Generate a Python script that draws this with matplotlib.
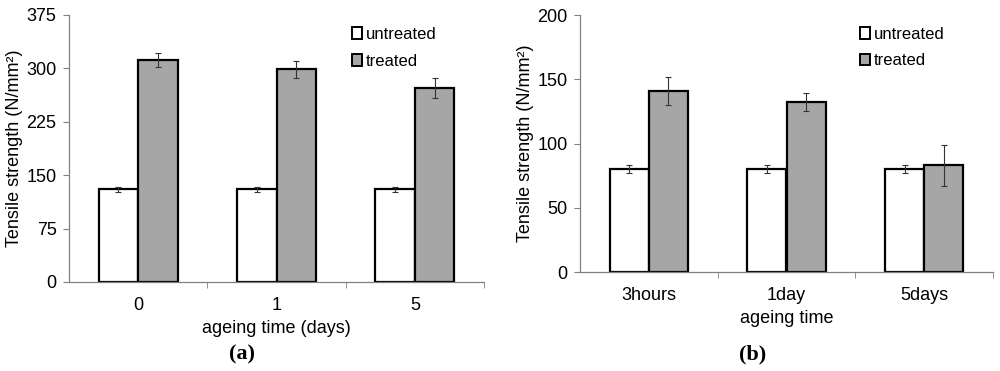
import numpy as np
import matplotlib.pyplot as plt
from matplotlib.patches import Patch

plt.rcParams['font.family'] = ['Liberation Sans', 'DejaVu Sans']

# panel (a)
cats_a = ['0', '1', '5']
untreated_a = [130, 130, 130]
untreated_a_err = [4, 4, 4]
treated_a = [312, 299, 273]
treated_a_err = [10, 12, 14]

# panel (b)
cats_b = ['3hours', '1day', '5days']
untreated_b = [80, 80, 80]
untreated_b_err = [3, 3, 3]
treated_b = [141, 132, 83]
treated_b_err = [11, 7, 16]

gray = '#a6a6a6'
spine_c = '#808080'


def draw(ax, cats, unt, unt_err, trt, trt_err, ymax, step, xlabel, bbox):
    x = np.arange(len(cats)) + 0.5
    w = 0.285
    ax.bar(x - w / 2, unt, w, color='white', edgecolor='black', linewidth=1.6, zorder=2)
    ax.bar(x + w / 2, trt, w, color=gray, edgecolor='black', linewidth=1.6, zorder=2)
    ax.errorbar(x - w / 2, unt, yerr=unt_err, fmt='none', ecolor='#333333',
                elinewidth=0.8, capsize=2.5, capthick=0.8, zorder=3)
    ax.errorbar(x + w / 2, trt, yerr=trt_err, fmt='none', ecolor='#333333',
                elinewidth=0.8, capsize=2.5, capthick=0.8, zorder=3)
    ax.set_xlim(0, len(cats))
    ax.set_ylim(0, ymax)
    ax.set_yticks(np.arange(0, ymax + 1, step))
    ax.set_xticks(x)
    ax.set_xticklabels(cats)
    ax.set_xticks(np.arange(1, len(cats) + 1), minor=True)
    ax.tick_params(axis='x', which='major', length=0, pad=11, labelsize=13)
    ax.tick_params(axis='x', which='minor', length=4, color=spine_c, direction='out')
    ax.tick_params(axis='y', length=4, color=spine_c, labelsize=13, pad=5)
    for s in ['top', 'right']:
        ax.spines[s].set_visible(False)
    for s in ['left', 'bottom']:
        ax.spines[s].set_color(spine_c)
        ax.spines[s].set_linewidth(0.9)
    ax.set_ylabel('Tensile strength (N/mm²)', fontsize=13, labelpad=2)
    ax.set_xlabel(xlabel, fontsize=13, labelpad=4)
    handles = [Patch(facecolor='white', edgecolor='black', linewidth=1.4),
               Patch(facecolor=gray, edgecolor='black', linewidth=1.4)]
    ax.legend(handles, ['untreated', 'treated'], loc='upper left', frameon=False,
              fontsize=12, handlelength=0.6, handleheight=0.7, handletextpad=0.25,
              labelspacing=0.7, borderaxespad=0, borderpad=0,
              bbox_to_anchor=bbox)


fig = plt.figure(figsize=(10, 3.71), dpi=100)
ax1 = fig.add_axes([0.069, 0.24, 0.415, 0.7197])
ax2 = fig.add_axes([0.580, 0.2668, 0.413, 0.6927])

draw(ax1, cats_a, untreated_a, untreated_a_err, treated_a, treated_a_err,
     375, 75, 'ageing time (days)', (0.682, 0.955))
draw(ax2, cats_b, untreated_b, untreated_b_err, treated_b, treated_b_err,
     200, 50, 'ageing time', (0.677, 0.955))

fig.text(0.242, 0.03, '(a)', ha='center', fontsize=16, fontweight='bold',
         family='Liberation Serif')
fig.text(0.753, 0.03, '(b)', ha='center', fontsize=16, fontweight='bold',
         family='Liberation Serif')

fig.savefig('out.png', dpi=100)
